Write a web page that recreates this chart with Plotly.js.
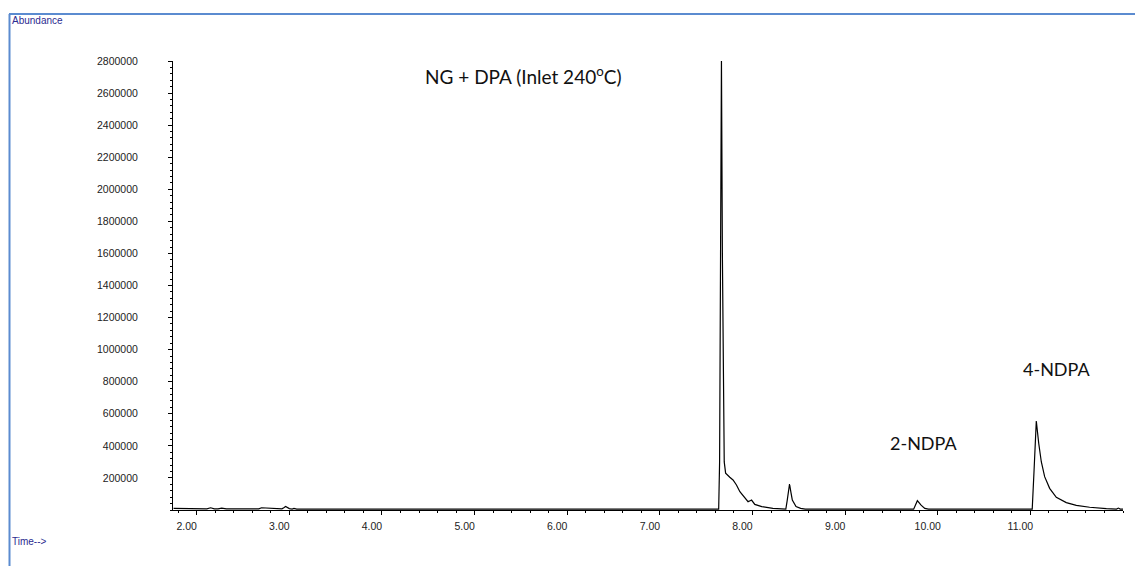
<!DOCTYPE html>
<html>
<head>
<meta charset="utf-8">
<script src="https://cdn.plot.ly/plotly-3.0.1.min.js"></script>
<style>
  html, body { margin: 0; padding: 0; background: #fff; }
  #chart { width: 1135px; height: 566px; }
</style>
</head>
<body>
<div id="chart"></div>
<script>
// Retention time (min)
const time = [1.75, 1.85, 1.95, 2.05, 2.11, 2.15, 2.19, 2.23, 2.27, 2.32, 2.45, 2.6, 2.67, 2.70, 2.73, 2.76, 2.80, 2.88, 2.92, 2.94, 2.96, 3.0, 3.03, 3.05, 3.08, 3.2, 3.5, 4.0, 4.5, 5.0, 5.4, 5.48, 5.52, 5.57, 5.7, 6.0, 6.5, 7.0, 7.4, 7.635, 7.645, 7.655, 7.665, 7.675, 7.685, 7.695, 7.71, 7.735, 7.755, 7.79, 7.827, 7.864, 7.917, 7.952, 7.975, 7.99, 8.025, 8.10, 8.22, 8.36, 8.375, 8.387, 8.40, 8.415, 8.43, 8.47, 8.52, 8.57, 8.8, 9.2, 9.6, 9.74, 9.78, 9.82, 9.86, 9.9, 10.2, 10.6, 10.95, 11.02, 11.04, 11.064, 11.09, 11.118, 11.154, 11.208, 11.28, 11.388, 11.496, 11.64, 11.82, 11.93, 11.95, 11.97, 12.0];
// Abundance
const abundance = [10000, 9000, 8000, 7000, 7000, 14000, 7000, 7000, 12000, 7000, 6000, 6000, 7000, 14000, 13000, 10000, 7000, 6000, 7000, 14000, 22000, 9000, 6000, 10000, 6000, 6000, 5000, 5000, 5000, 5000, 5000, 7000, 9000, 7000, 5000, 5000, 5000, 5000, 5000, 5000, 300000, 1500000, 2810000, 1600000, 600000, 300000, 230000, 212000, 204000, 187000, 156000, 114000, 73000, 52000, 58000, 62000, 35000, 21000, 10600, 6000, 60000, 130000, 162000, 110000, 62000, 21000, 10000, 6000, 5000, 5000, 5000, 5000, 58000, 30000, 10000, 5000, 5000, 5000, 5000, 5000, 250000, 555000, 416000, 301000, 208000, 135000, 79000, 46000, 29000, 17000, 8000, 6000, 12000, 6000, 6000];

const yTickVals = [200000, 400000, 600000, 800000, 1000000, 1200000, 1400000, 1600000, 1800000, 2000000, 2200000, 2400000, 2600000, 2800000];
const yTickText = ["200000", "400000", "600000", "800000", "1000000", "1200000", "1400000", "1600000", "1800000", "2000000", "2200000", "2400000", "2600000", "2800000"];
const xTickVals = [2, 3, 4, 5, 6, 7, 8, 9, 10, 11];
const xTickText = ["2.00", "3.00", "4.00", "5.00", "6.00", "7.00", "8.00", "9.00", "10.00", "11.00"];

const tickFont = {family: "Liberation Sans, Arial, sans-serif", size: 10.5, color: "#222"};
const noteFont = {family: "Lato, sans-serif", size: 18, color: "#111"};
const titleFont = {family: "Lato, sans-serif", size: 19, color: "#111"};
const navyFont = {family: "Liberation Sans, Arial, sans-serif", size: 10, color: "#2b2b90"};

const L = 173, R = 1123, T = 61, B = 510;
const px = v => (v - L) / (R - L);
const py = v => (B - v) / (B - T);

const trace = {
  x: time, y: abundance, type: "scatter", mode: "lines",
  line: {color: "#000", width: 1.2, shape: "linear"},
  hoverinfo: "skip"
};

const layout = {
  width: 1135, height: 566,
  margin: {l: L, r: 1135 - R, t: T, b: 566 - B},
  paper_bgcolor: "#fff", plot_bgcolor: "#fff",
  showlegend: false,
  xaxis: {
    range: [1.744, 12.0], showgrid: false, zeroline: false,
    showline: true, linecolor: "#000", linewidth: 1,
    tickmode: "array", tickvals: xTickVals, ticktext: xTickText,
    ticks: "outside", ticklen: 4, tickcolor: "#000", tickwidth: 1,
    tickfont: tickFont, ticklabelshift: -10, ticklabelstandoff: 2,
    minor: {tickmode: "linear", tick0: 0, dtick: 0.2, ticks: "outside", ticklen: 2, tickcolor: "#000", showgrid: false}
  },
  yaxis: {
    range: [0, 2800000], showgrid: false, zeroline: false,
    showline: true, linecolor: "#000", linewidth: 1,
    tickmode: "array", tickvals: yTickVals, ticktext: yTickText,
    ticks: "outside", ticklen: 4, tickcolor: "#000", tickwidth: 1,
    tickfont: tickFont, ticklabelstandoff: 28,
    minor: {tickmode: "linear", tick0: 0, dtick: 40000, ticks: "outside", ticklen: 2, tickcolor: "#000", showgrid: false}
  },
  shapes: [
    {type: "line", xref: "paper", yref: "paper", x0: px(9), x1: px(1135), y0: py(14), y1: py(14), line: {color: "#5b8bd0", width: 2}},
    {type: "line", xref: "paper", yref: "paper", x0: px(9.5), x1: px(9.5), y0: py(14), y1: py(566), line: {color: "#5b8bd0", width: 2}}
  ],
  annotations: [
    {xref: "paper", yref: "paper", x: px(10), y: py(20), xanchor: "left", yanchor: "middle", showarrow: false, text: "Abundance", font: navyFont},
    {xref: "paper", yref: "paper", x: px(10), y: py(541), xanchor: "left", yanchor: "middle", showarrow: false, text: "Time-->", font: navyFont},
    {xref: "paper", yref: "paper", x: px(523), y: py(76), xanchor: "center", yanchor: "middle", showarrow: false, text: "NG + DPA (Inlet 240<sup>o</sup>C)", font: titleFont},
    {xref: "paper", yref: "paper", x: px(923), y: py(443), xanchor: "center", yanchor: "middle", showarrow: false, text: "2-NDPA", font: noteFont},
    {xref: "paper", yref: "paper", x: px(1056), y: py(369), xanchor: "center", yanchor: "middle", showarrow: false, text: "4-NDPA", font: noteFont}
  ]
};

Plotly.newPlot("chart", [trace], layout, {displayModeBar: false, staticPlot: true});
</script>
</body>
</html>
